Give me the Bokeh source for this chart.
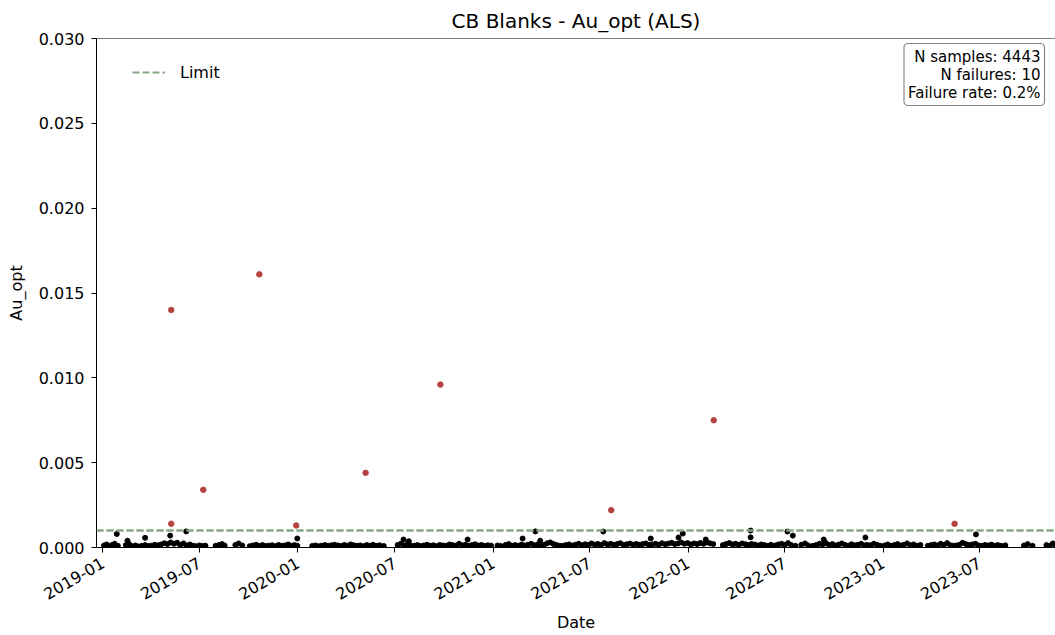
import math
import pandas as pd
from bokeh.plotting import figure
from bokeh.models import (Range1d, Span, Label, Legend, LegendItem, MonthsTicker,
                          DatetimeTickFormatter, SingleIntervalTicker, PrintfTickFormatter)
from bokeh.embed import file_html
from bokeh.resources import INLINE

TITLE = "CB Blanks - Au_opt (ALS)"
X_LABEL = "Date"
Y_LABEL = "Au_opt"
LIMIT = 0.001
STATS = ["N samples: 4443", "N failures: 10", "Failure rate: 0.2%"]

# Failures (above limit)
fail_dates = ["2019-05-09", "2019-05-09", "2019-07-08", "2019-10-21", "2019-12-29",
              "2020-05-07", "2020-09-24", "2021-08-10", "2022-02-18", "2023-05-15"]
fail_values = [0.0140, 0.0014, 0.0034, 0.0161, 0.0013,
               0.0044, 0.0096, 0.0022, 0.0075, 0.0014]

# Passing samples that stand out above the dense band
high_pass_dates = ["2019-01-27", "2019-02-16", "2019-03-21", "2019-05-07", "2019-06-06",
                   "2019-12-31", "2020-07-17", "2020-07-27", "2020-11-14", "2021-02-25",
                   "2021-03-21", "2021-03-30", "2021-07-26", "2021-10-23", "2021-12-14",
                   "2021-12-22", "2022-02-03", "2022-04-28", "2022-04-28", "2022-07-06",
                   "2022-07-16", "2022-09-12", "2022-11-29", "2023-06-24"]
high_pass_values = [0.00080, 0.00040, 0.00057, 0.00070, 0.00095,
                    0.00053, 0.00047, 0.00037, 0.00047, 0.00053,
                    0.00095, 0.00040, 0.00094, 0.00053, 0.00059,
                    0.00082, 0.00047, 0.00100, 0.00060, 0.00094,
                    0.00070, 0.00047, 0.00059, 0.00077]

# Dense band of passing samples near zero
pass_dates = [
    "2019-01-03", "2019-01-08", "2019-01-13", "2019-01-18", "2019-01-23", "2019-01-29",
    "2019-02-13", "2019-02-19",
    "2019-02-25", "2019-03-03", "2019-03-09", "2019-03-15", "2019-03-21", "2019-03-27",
    "2019-04-02", "2019-04-08", "2019-04-14", "2019-04-20", "2019-04-26", "2019-05-02",
    "2019-05-08", "2019-05-14", "2019-05-20", "2019-05-26", "2019-06-01", "2019-06-07",
    "2019-06-13", "2019-06-19", "2019-06-25", "2019-07-01", "2019-07-07", "2019-07-12",
    "2019-07-31", "2019-08-06", "2019-08-12", "2019-08-17",
    "2019-09-06", "2019-09-12", "2019-09-19",
    "2019-10-03", "2019-10-09", "2019-10-15", "2019-10-21", "2019-10-27", "2019-11-02",
    "2019-11-08", "2019-11-14", "2019-11-20", "2019-11-26", "2019-12-02", "2019-12-08",
    "2019-12-14", "2019-12-20", "2019-12-26", "2019-12-31",
    "2020-01-28", "2020-02-03", "2020-02-09", "2020-02-15", "2020-02-21", "2020-02-27",
    "2020-03-04", "2020-03-10", "2020-03-16", "2020-03-22", "2020-03-28", "2020-04-03",
    "2020-04-09", "2020-04-15", "2020-04-21", "2020-04-27", "2020-05-03", "2020-05-09",
    "2020-05-15", "2020-05-21", "2020-05-27", "2020-06-02", "2020-06-10",
    "2020-07-06", "2020-07-12", "2020-07-18", "2020-07-24", "2020-07-31",
    "2020-08-06", "2020-08-12", "2020-08-18", "2020-08-24", "2020-08-30", "2020-09-05",
    "2020-09-11", "2020-09-17", "2020-09-23", "2020-09-29", "2020-10-05", "2020-10-11",
    "2020-10-17", "2020-10-23", "2020-10-29", "2020-11-04", "2020-11-10", "2020-11-16",
    "2020-11-22", "2020-11-28", "2020-12-04", "2020-12-10", "2020-12-16", "2020-12-22",
    "2020-12-28",
    "2021-01-09", "2021-01-15", "2021-01-24", "2021-01-30", "2021-02-05", "2021-02-11",
    "2021-02-17", "2021-02-23", "2021-03-01", "2021-03-07", "2021-03-13", "2021-03-19",
    "2021-03-25", "2021-03-31", "2021-04-06", "2021-04-12", "2021-04-18", "2021-04-24",
    "2021-04-30", "2021-05-05",
    "2021-05-11", "2021-05-17", "2021-05-23", "2021-05-29", "2021-06-04", "2021-06-10",
    "2021-06-16", "2021-06-22", "2021-06-28", "2021-07-04", "2021-07-10", "2021-07-16",
    "2021-07-22", "2021-07-28", "2021-08-03", "2021-08-09", "2021-08-15", "2021-08-21",
    "2021-08-27", "2021-09-02", "2021-09-08", "2021-09-14", "2021-09-20", "2021-09-26",
    "2021-10-02", "2021-10-08", "2021-10-14", "2021-10-20", "2021-10-26", "2021-11-01",
    "2021-11-07", "2021-11-13", "2021-11-19", "2021-11-25", "2021-12-01", "2021-12-07",
    "2021-12-13", "2021-12-19", "2021-12-25", "2021-12-31", "2022-01-06", "2022-01-12",
    "2022-01-18", "2022-01-24", "2022-01-30", "2022-02-05", "2022-02-11", "2022-02-17",
    "2022-03-07", "2022-03-13", "2022-03-19", "2022-03-25", "2022-03-31", "2022-04-06",
    "2022-04-12", "2022-04-18", "2022-04-24", "2022-04-30", "2022-05-06", "2022-05-12",
    "2022-05-18", "2022-05-24", "2022-05-30", "2022-06-05",
    "2022-06-13", "2022-06-19", "2022-06-25", "2022-07-01", "2022-07-07", "2022-07-13",
    "2022-07-21",
    "2022-08-01", "2022-08-08", "2022-08-14",
    "2022-08-23", "2022-08-29", "2022-09-04", "2022-09-10", "2022-09-16", "2022-09-22",
    "2022-09-28", "2022-10-04", "2022-10-10", "2022-10-16", "2022-10-22", "2022-10-28",
    "2022-11-03", "2022-11-09", "2022-11-15", "2022-11-21", "2022-11-27", "2022-12-02",
    "2022-12-09", "2022-12-15", "2022-12-21", "2022-12-27",
    "2023-01-04", "2023-01-10", "2023-01-16", "2023-01-22", "2023-01-28", "2023-02-03",
    "2023-02-09", "2023-02-15", "2023-02-21", "2023-02-27", "2023-03-05", "2023-03-12",
    "2023-03-26", "2023-04-01", "2023-04-07", "2023-04-13", "2023-04-19", "2023-04-25",
    "2023-05-01", "2023-05-07", "2023-05-12",
    "2023-05-18", "2023-05-24", "2023-05-30", "2023-06-05", "2023-06-11", "2023-06-17",
    "2023-06-23", "2023-06-29", "2023-07-05", "2023-07-11", "2023-07-17", "2023-07-23",
    "2023-07-29", "2023-08-04", "2023-08-10", "2023-08-18",
    "2023-09-22", "2023-09-29", "2023-10-08",
    "2023-11-03", "2023-11-09", "2023-11-15", "2023-11-20",
]
pass_values = [
    0.00012, 0.00018, 0.00008, 0.00015, 0.00022, 0.00010,
    0.00014, 0.00020,
    0.00008, 0.00012, 0.00006, 0.00010, 0.00014, 0.00009,
    0.00011, 0.00016, 0.00013, 0.00018, 0.00025, 0.00020,
    0.00030, 0.00022, 0.00028, 0.00015, 0.00024, 0.00012,
    0.00018, 0.00010, 0.00008, 0.00012, 0.00009, 0.00011,
    0.00010, 0.00014, 0.00020, 0.00012,
    0.00015, 0.00024, 0.00012,
    0.00008, 0.00012, 0.00016, 0.00010, 0.00014, 0.00009,
    0.00011, 0.00013, 0.00008, 0.00015, 0.00010, 0.00012,
    0.00018, 0.00011, 0.00014, 0.00010,
    0.00009, 0.00012, 0.00008, 0.00011, 0.00014, 0.00010,
    0.00013, 0.00016, 0.00012, 0.00009, 0.00015, 0.00011,
    0.00018, 0.00013, 0.00010, 0.00012, 0.00008, 0.00014,
    0.00011, 0.00016, 0.00010, 0.00013, 0.00009,
    0.00015, 0.00022, 0.00012, 0.00018, 0.00010,
    0.00010, 0.00014, 0.00009, 0.00012, 0.00016, 0.00011,
    0.00013, 0.00008, 0.00015, 0.00012, 0.00010, 0.00018,
    0.00014, 0.00011, 0.00022, 0.00013, 0.00016, 0.00010,
    0.00014, 0.00019, 0.00012, 0.00015, 0.00010, 0.00013,
    0.00011,
    0.00012, 0.00009, 0.00015, 0.00020, 0.00011, 0.00014,
    0.00010, 0.00017, 0.00012, 0.00016, 0.00022, 0.00013,
    0.00018, 0.00011, 0.00015, 0.00025, 0.00030, 0.00020,
    0.00014, 0.00010,
    0.00010, 0.00014, 0.00018, 0.00012, 0.00016, 0.00022,
    0.00013, 0.00019, 0.00015, 0.00024, 0.00017, 0.00021,
    0.00014, 0.00026, 0.00018, 0.00022, 0.00016, 0.00020,
    0.00025, 0.00015, 0.00019, 0.00023, 0.00017, 0.00021,
    0.00016, 0.00020, 0.00024, 0.00014, 0.00018, 0.00022,
    0.00016, 0.00025, 0.00019, 0.00023, 0.00028, 0.00020,
    0.00024, 0.00030, 0.00022, 0.00026, 0.00018, 0.00024,
    0.00020, 0.00027, 0.00022, 0.00030, 0.00025, 0.00020,
    0.00014, 0.00020, 0.00026, 0.00018, 0.00022, 0.00016,
    0.00024, 0.00019, 0.00015, 0.00021, 0.00017, 0.00012,
    0.00018, 0.00014, 0.00010, 0.00016,
    0.00012, 0.00018, 0.00022, 0.00015, 0.00026, 0.00014,
    0.00010,
    0.00016, 0.00024, 0.00012,
    0.00010, 0.00015, 0.00022, 0.00018, 0.00026, 0.00014,
    0.00020, 0.00012, 0.00017, 0.00024, 0.00015, 0.00010,
    0.00019, 0.00013, 0.00016, 0.00022, 0.00012, 0.00015,
    0.00014, 0.00022, 0.00016, 0.00010,
    0.00012, 0.00018, 0.00010, 0.00014, 0.00020, 0.00012,
    0.00016, 0.00024, 0.00013, 0.00018, 0.00011, 0.00015,
    0.00010, 0.00014, 0.00018, 0.00012, 0.00022, 0.00015,
    0.00026, 0.00013, 0.00011,
    0.00012, 0.00016, 0.00028, 0.00020, 0.00014, 0.00018,
    0.00022, 0.00012, 0.00010, 0.00015, 0.00012, 0.00017,
    0.00011, 0.00014, 0.00010, 0.00013,
    0.00012, 0.00020, 0.00010,
    0.00014, 0.00010, 0.00024, 0.00016,
]

FONT = "DejaVu Sans"

x_start = pd.Timestamp("2018-12-20")
x_end = pd.Timestamp("2023-11-20")

p = figure(width=1055, height=635, x_axis_type="datetime",
           x_range=Range1d(x_start, x_end), y_range=Range1d(0, 0.030),
           output_backend="svg", toolbar_location=None,
           min_border_left=96, min_border_right=0, min_border_top=38, min_border_bottom=88)
p.outline_line_color = None
p.xgrid.grid_line_color = None
p.ygrid.grid_line_color = None
p.background_fill_color = "white"

p.title.text = TITLE
p.title.align = "center"
p.title.text_font = FONT
p.title.text_font_size = "20px"
p.title.text_font_style = "normal"
p.title.text_color = "black"
p.title.standoff = 11

# Data
p.scatter(pd.to_datetime(pass_dates), pass_values, size=5, color="black")
p.scatter(pd.to_datetime(high_pass_dates), high_pass_values, size=5, color="black")
p.scatter(pd.to_datetime(fail_dates), fail_values, size=5.5, color="#b5443f")

# Limit line (with legend via a line renderer)
LIMIT_COLOR = "#86a886"
limit_span = Span(location=LIMIT, dimension="width", line_color=LIMIT_COLOR,
                  line_width=2, line_dash="7 3")
p.add_layout(limit_span)
lim_r = p.line([x_start, x_end], [LIMIT, LIMIT], line_color=LIMIT_COLOR, line_width=2,
               line_dash="7 3")

top_span = Span(location=0.030, dimension="width", line_color="black", line_width=1)
p.add_layout(top_span)

legend = Legend(items=[LegendItem(label="Limit", renderers=[lim_r])],
                location=(36, 465), border_line_color=None, background_fill_alpha=0,
                glyph_width=33, label_standoff=15, padding=4, spacing=0,
                label_text_font=FONT, label_text_font_size="16px",
                label_text_color="black")
p.add_layout(legend)

# Axes
p.xaxis.ticker = MonthsTicker(months=[0, 6])
p.xaxis.formatter = DatetimeTickFormatter(months="%Y-%m", years="%Y-%m", days="%Y-%m")
p.xaxis.major_label_orientation = math.pi / 6
p.yaxis.ticker = SingleIntervalTicker(interval=0.005)
p.yaxis.formatter = PrintfTickFormatter(format="%.3f")

for ax in (p.xaxis, p.yaxis):
    ax.axis_line_color = "black"
    ax.major_tick_line_color = "black"
    ax.major_tick_out = 5
    ax.major_tick_in = 0
    ax.minor_tick_line_color = None
    ax.major_label_text_font = FONT
    ax.major_label_text_font_size = "16px"
    ax.major_label_text_color = "black"
    ax.axis_label_text_font = FONT
    ax.axis_label_text_font_size = "16px"
    ax.axis_label_text_font_style = "normal"
    ax.axis_label_text_color = "black"
p.xaxis.axis_label = X_LABEL
p.yaxis.axis_label = Y_LABEL
p.yaxis.major_label_standoff = 7
p.xaxis.major_label_standoff = 9
p.yaxis.axis_label_standoff = 10
p.xaxis.axis_label_standoff = 5

# Stats box
stats = Label(x=948, y=504, x_units="screen", y_units="screen",
              text="\n".join(STATS), text_align="right", text_baseline="top",
              text_font=FONT, text_font_size="15px", text_color="black",
              text_line_height=1.0,
              border_line_color="#888888", border_line_width=1.2,
              background_fill_color="white", padding=4, border_radius=4)
p.add_layout(stats)

open("out.html", "w").write(file_html(p, INLINE))
